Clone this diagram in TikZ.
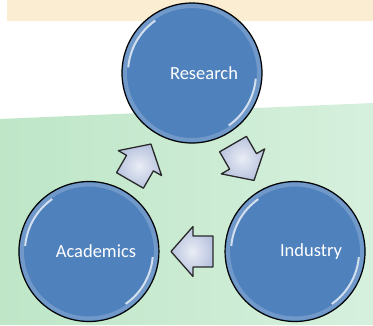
\documentclass[tikz,border=0pt]{standalone}
\usepackage{fontspec}
\setmainfont{Carlito}
\usetikzlibrary{calc}
\definecolor{bubbleblue}{RGB}{79,129,189}
\definecolor{arrowfill}{RGB}{184,195,222}
\definecolor{arrowedge}{RGB}{40,40,40}
\definecolor{papertan}{RGB}{250,237,210}
\definecolor{mintleft}{RGB}{190,230,199}
\definecolor{mintright}{RGB}{214,240,221}
\begin{document}
\begin{tikzpicture}[x=1pt,y=1pt,
	bubble/.style={circle,draw=black,line width=1.2pt,fill=bubbleblue,
		minimum size=140pt,inner sep=0pt,
		path picture={
			\draw[bubbleblue!45!white,line width=4pt,opacity=.35]
				(path picture bounding box.center) circle (67);
			\draw[white,line width=2pt,opacity=.75]
				([shift={(125:64)}]path picture bounding box.center) arc (125:175:64);
			\draw[white,line width=2pt,opacity=.75]
				([shift={(-55:64)}]path picture bounding box.center) arc (-55:-5:64);}},
	tag/.style={text=white,font=\fontsize{18.5}{20}\selectfont},
	blockarrow/.style={draw=arrowedge,line width=1.3pt,line join=round,
		inner color=white!70!arrowfill,outer color=arrowfill}]
\useasboundingbox (-192,-133) rectangle (181,192);
\fill[papertan] (-185,171) rectangle (181,192);
\shade[left color=mintleft,right color=mintright]
	(-192,-133) -- (-192,73) -- (181,89) -- (181,-133) -- cycle;

\node[bubble,label={[tag,xshift=12pt]center:Research}] (research) at (90:119) {};
\node[bubble,label={[tag,xshift=16pt]center:Industry}] (industry) at (-30:119) {};
\node[bubble,label={[tag,xshift=7pt]center:Academics}] (academics) at (210:119) {};

\foreach \from/\to/\turn in {research/industry/-60,industry/academics/180,academics/research/60}
	\draw[blockarrow,shift={($(\from)!0.5!(\to)$)},rotate=\turn]
		(-21,-15.5) -- (-1,-15.5) -- (-1,-25) -- (21,0) -- (-1,25) -- (-1,15.5) -- (-21,15.5) -- cycle;
\end{tikzpicture}
\end{document}
